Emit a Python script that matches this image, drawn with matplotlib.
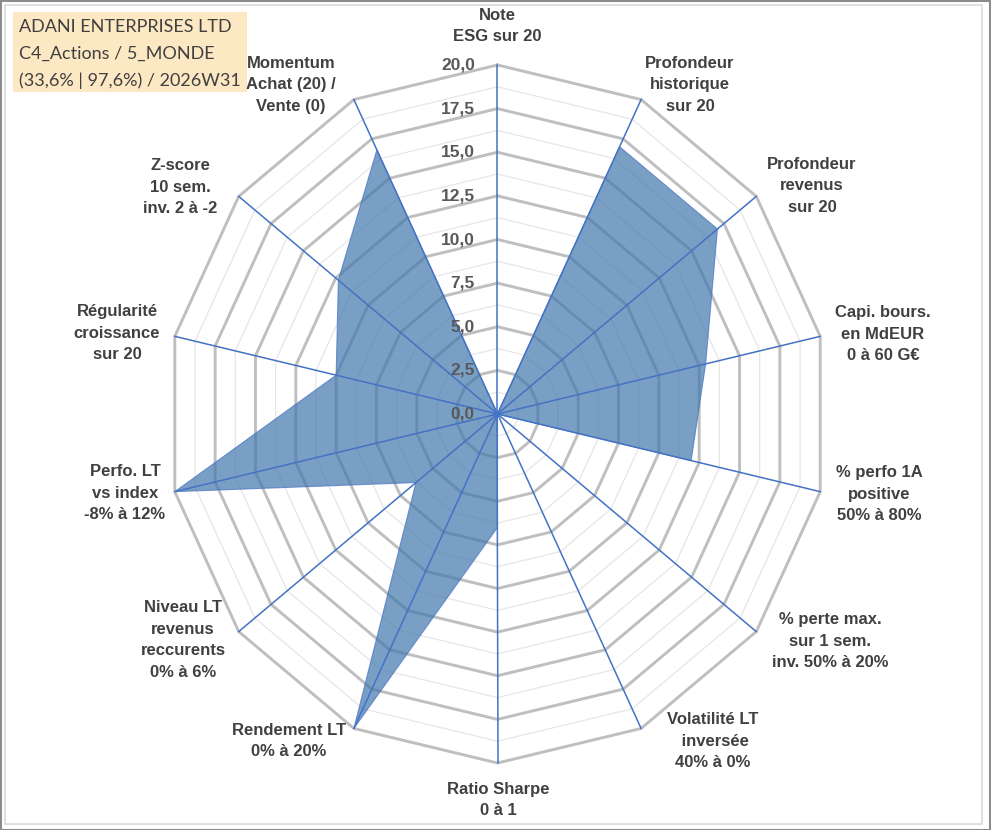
import numpy as np
import matplotlib
matplotlib.use('Agg')
import matplotlib.pyplot as plt
from matplotlib.patches import Polygon, Rectangle

# axes, clockwise from the top
categories = [
    'Note\nESG sur 20',
    'Profondeur\nhistorique\nsur 20',
    'Profondeur\nrevenus\nsur 20',
    'Capi. bours.\nen MdEUR\n0 à 60 G€',
    '% perfo 1A\npositive\n50% à 80%',
    '% perte max.\nsur 1 sem.\ninv. 50% à 20%',
    'Volatilité LT\n inversée\n40% à 0%',
    'Ratio Sharpe\n0 à 1',
    'Rendement LT\n0% à 20%',
    'Niveau LT\nrevenus\nreccurents\n0% à 6%',
    'Perfo. LT\nvs index\n-8% à 12%',
    'Régularité\ncroissance\nsur 20',
    'Z-score\n10 sem.\ninv. 2 à -2',
    'Momentum\nAchat (20) /\nVente (0)',
]
values = [0, 17.0, 17.0, 12.9, 12.0, 0, 0, 6.5, 20, 6.3, 20, 10.0, 12.3, 16.8]
ticks = [0, 2.5, 5, 7.5, 10, 12.5, 15, 17.5, 20]
title_lines = ['ADANI ENTERPRISES LTD', 'C4_Actions / 5_MONDE', '(33,6% | 97,6%) / 2026W31']

# label centres in pixels (x, y from top)
label_pos = [(497, 26), (690, 85), (812, 186), (883, 334), (879, 494), (830, 641),
             (713, 741), (498, 800), (289, 741), (183, 640), (125, 493), (117, 333),
             (180, 187), (291, 85)]

W, H = 991, 830
fig = plt.figure(figsize=(W / 100, H / 100), dpi=100)
fig.patch.set_facecolor('white')

# chart centre (497.5, 414) px, radius 331 px horizontally, 349 px vertically
cx, cy, rx, ry = 497.5, 414, 331, 349
ax = fig.add_axes([(cx - rx) / W, (H - cy - ry) / H, 2 * rx / W, 2 * ry / H])
ax.set_xlim(-20, 20)
ax.set_ylim(-20, 20)
ax.axis('off')

n = len(categories)
ang = np.arange(n) * 2 * np.pi / n
sx, sy = np.sin(ang), np.cos(ang)

# minor rings
for r in np.arange(1.25, 20, 2.5):
    ax.plot(np.append(r * sx, r * sx[0]), np.append(r * sy, r * sy[0]),
            color='#E6E6E6', lw=0.9, zorder=1, clip_on=False)
# major rings
for r in ticks[1:]:
    ax.plot(np.append(r * sx, r * sx[0]), np.append(r * sy, r * sy[0]),
            color='#BFBFBF', lw=2.1, zorder=2, clip_on=False, solid_joinstyle='miter')

# data polygon
v = np.array(values)
poly = Polygon(np.column_stack([v * sx, v * sy]), closed=True,
               facecolor='#4277AC', alpha=0.7, edgecolor='#4472C4', lw=0.8, zorder=3)
ax.add_patch(poly)

# spokes
for a, b in zip(sx, sy):
    ax.plot([0, 20 * a], [0, 20 * b], color='#4472C4', lw=1.1, zorder=4, clip_on=False)

# tick labels along top spoke
for t in ticks:
    ax.text(-1.36, t, f'{t:.1f}'.replace('.', ','), ha='right', va='center',
            fontsize=12.5, fontweight='bold', color='#595959',
            family='Liberation Sans', zorder=5)

# category labels
for lab, (px, py) in zip(categories, label_pos):
    fig.text(px / W, 1 - py / H, lab, ha='center', va='center', multialignment='center',
             fontsize=12, fontweight='bold', color='#404040', family='Liberation Sans',
             linespacing=1.55)

# title box
fig.patches.append(Rectangle((13 / W, 1 - 92 / H), 234 / W, 80 / H, transform=fig.transFigure,
                             facecolor='#FCE8C3', edgecolor='none', zorder=0))
for i, line in enumerate(title_lines):
    fig.text(19 / W, 1 - (27 + i * 26.7) / H, line, ha='left', va='center',
             fontsize=13, color='#404040', family='Lato')

# chart frame
fig.patches.append(Rectangle((5 / W, 6 / H), 977 / W, 819 / H, transform=fig.transFigure,
                             facecolor='none', edgecolor='#D9D9D9', lw=1.2))
fig.patches.append(Rectangle((0.5 / W, 0.5 / H), 989 / W, 828 / H, transform=fig.transFigure,
                             facecolor='none', edgecolor='#8C8C8C', lw=1.5))

fig.savefig('out.png', dpi=100)
